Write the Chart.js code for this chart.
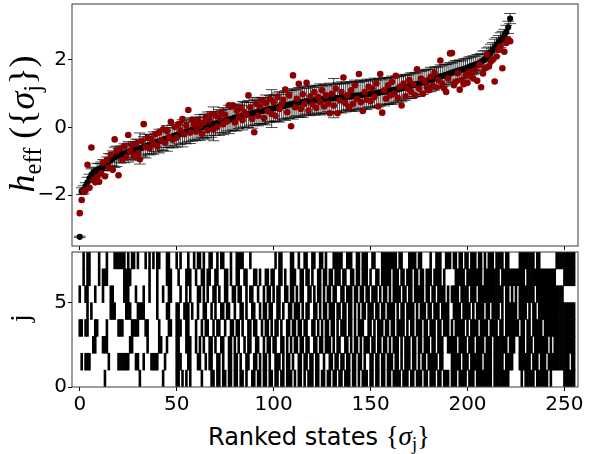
<!DOCTYPE html>
<html>
<head>
<meta charset="utf-8">
<script src="https://cdn.jsdelivr.net/npm/chart.js@4.4.0/dist/chart.umd.min.js"></script>
<style>
  html, body { margin: 0; padding: 0; background: #fff; }
  #wrap { position: relative; width: 592px; height: 454px; overflow: hidden; background: #fff; }
  #topBox { position: absolute; left: 0; top: 0; width: 592px; height: 250px; }
  #botBox { position: absolute; left: 0; top: 250px; width: 592px; height: 170px; }
  .lbl { position: absolute; white-space: nowrap; color: #000; line-height: 1; }
  .serif { font-family: "Liberation Serif", "DejaVu Serif", serif; }
  .lbl sub { font-size: 0.68em; vertical-align: -0.28em; line-height: 0; font-style: normal; }
  #ylabTop { left: 22px; top: 124px; font-size: 36px; transform: translate(-50%, -50%) rotate(-90deg); }
  #ylabBot { left: 20px; top: 318px; font-size: 28px; transform: translate(-50%, -50%) rotate(-90deg); }
  #xlab { left: 319px; top: 436px; font-size: 24px; font-family: "DejaVu Sans", sans-serif; transform: translate(-50%, -50%); }
  #xlab .serif { font-size: 27px; }
</style>
</head>
<body>
<div id="wrap">
  <div id="topBox"><canvas id="topCanvas" width="592" height="250"></canvas></div>
  <div id="botBox"><canvas id="botCanvas" width="592" height="170"></canvas></div>
  <div class="lbl serif" id="ylabTop"><i>h</i><sub>eff</sub>&nbsp;(<span>{</span><i>σ</i><sub>j</sub><span>}</span>)</div>
  <div class="lbl serif" id="ylabBot">j</div>
  <div class="lbl" id="xlab">Ranked states <span class="serif">{<i>σ</i><sub>j</sub>}</span></div>
</div>
<script>
// ranked h_eff (black, with error bars)
const hRanked = [
  -3.23, -1.88, -1.84, -1.73, -1.62, -1.50, -1.40, -1.33, -1.29, -1.26,
  -1.22, -1.20, -1.17, -1.12, -1.07, -1.02, -0.96, -0.91, -0.88, -0.85,
  -0.82, -0.80, -0.78, -0.76, -0.74, -0.72, -0.70, -0.69, -0.67, -0.66,
  -0.64, -0.62, -0.60, -0.57, -0.55, -0.53, -0.51, -0.49, -0.46, -0.44,
  -0.42, -0.40, -0.38, -0.36, -0.34, -0.32, -0.30, -0.28, -0.26, -0.24,
  -0.22, -0.20, -0.18, -0.17, -0.15, -0.13, -0.11, -0.09, -0.07, -0.06,
  -0.04, -0.02, 0.00, 0.01, 0.03, 0.05, 0.06, 0.08, 0.09, 0.11,
  0.12, 0.14, 0.15, 0.17, 0.19, 0.20, 0.22, 0.24, 0.25, 0.27,
  0.29, 0.30, 0.32, 0.33, 0.35, 0.37, 0.38, 0.40, 0.41, 0.43,
  0.44, 0.45, 0.47, 0.48, 0.49, 0.50, 0.52, 0.53, 0.55, 0.56,
  0.57, 0.58, 0.60, 0.61, 0.62, 0.64, 0.65, 0.66, 0.68, 0.69,
  0.70, 0.72, 0.73, 0.74, 0.75, 0.76, 0.77, 0.78, 0.79, 0.79,
  0.80, 0.81, 0.81, 0.82, 0.83, 0.83, 0.84, 0.84, 0.85, 0.86,
  0.86, 0.87, 0.87, 0.88, 0.88, 0.89, 0.90, 0.90, 0.91, 0.92,
  0.92, 0.93, 0.94, 0.94, 0.95, 0.96, 0.97, 0.97, 0.98, 0.99,
  1.00, 1.01, 1.02, 1.02, 1.03, 1.04, 1.05, 1.06, 1.07, 1.08,
  1.09, 1.10, 1.11, 1.12, 1.13, 1.15, 1.16, 1.17, 1.19, 1.20,
  1.22, 1.24, 1.25, 1.27, 1.29, 1.30, 1.32, 1.34, 1.36, 1.38,
  1.40, 1.42, 1.43, 1.45, 1.47, 1.49, 1.51, 1.52, 1.54, 1.56,
  1.58, 1.60, 1.62, 1.64, 1.66, 1.68, 1.70, 1.71, 1.73, 1.75,
  1.77, 1.79, 1.82, 1.84, 1.86, 1.88, 1.90, 1.94, 1.98, 2.03,
  2.10, 2.16, 2.22, 2.29, 2.36, 2.44, 2.52, 2.58, 2.64, 2.72,
  2.82, 2.96, 3.22
];

// error bar half-lengths
const hErr = [
  0.02, 0.10, 0.12, 0.10, 0.15, 0.12, 0.18, 0.14, 0.12, 0.20,
  0.15, 0.18, 0.22, 0.16, 0.20, 0.25, 0.18, 0.22, 0.30, 0.30,
  0.20, 0.25, 0.18, 0.28, 0.22, 0.30, 0.24, 0.20, 0.26, 0.32,
  0.28, 0.46, 0.22, 0.30, 0.35, 0.25, 0.30, 0.28, 0.33, 0.26,
  0.30, 0.35, 0.28, 0.32, 0.25, 0.38, 0.30, 0.27, 0.34, 0.30,
  0.36, 0.28, 0.32, 0.40, 0.30, 0.35, 0.30, 0.38, 0.33, 0.30,
  0.35, 0.32, 0.38, 0.30, 0.36, 0.34, 0.40, 0.32, 0.38, 0.50,
  0.35, 0.30, 0.38, 0.33, 0.40, 0.35, 0.32, 0.42, 0.36, 0.34,
  0.38, 0.40, 0.35, 0.32, 0.42, 0.38, 0.36, 0.40, 0.34, 0.45,
  0.38, 0.35, 0.42, 0.36, 0.40, 0.38, 0.44, 0.35, 0.40, 0.56,
  0.40, 0.38, 0.42, 0.45, 0.36, 0.40, 0.44, 0.38, 0.42, 0.40,
  0.45, 0.40, 0.38, 0.44, 0.42, 0.46, 0.40, 0.38, 0.44, 0.42,
  0.40, 0.44, 0.38, 0.42, 0.46, 0.40, 0.44, 0.42, 0.38, 0.45,
  0.42, 0.58, 0.40, 0.44, 0.42, 0.46, 0.40, 0.44, 0.38, 0.42,
  0.44, 0.40, 0.46, 0.42, 0.38, 0.44, 0.40, 0.42, 0.45, 0.38,
  0.42, 0.40, 0.44, 0.38, 0.42, 0.40, 0.36, 0.42, 0.38, 0.40,
  0.38, 0.42, 0.36, 0.40, 0.38, 0.35, 0.40, 0.36, 0.38, 0.34,
  0.36, 0.38, 0.34, 0.36, 0.32, 0.38, 0.34, 0.36, 0.32, 0.34,
  0.32, 0.36, 0.30, 0.34, 0.32, 0.30, 0.34, 0.30, 0.32, 0.30,
  0.30, 0.32, 0.28, 0.30, 0.32, 0.28, 0.30, 0.26, 0.30, 0.28,
  0.28, 0.30, 0.26, 0.28, 0.25, 0.28, 0.26, 0.25, 0.28, 0.24,
  0.25, 0.22, 0.24, 0.22, 0.25, 0.22, 0.20, 0.22, 0.20, 0.18,
  0.20, 0.18, 0.15
];

// second estimate (dark red points)
const hModel = [
  -2.53, -2.14, -1.90, -1.86, -1.10, -1.78, -0.59, -1.55, -1.62, -1.46,
  -1.60, -1.35, -1.05, -1.44, -0.95, -1.18, -0.80, -1.25, -0.35, -0.70,
  -1.41, -0.62, -0.95, -0.55, -0.88, -0.22, -0.70, -0.52, -0.85, -0.48,
  -0.75, -0.94, -0.40, 0.10, -0.58, -0.30, -0.62, -0.35, -0.50, -0.20,
  -0.55, -0.15, -0.38, -0.05, -0.45, -0.10, -0.28, 0.17, -0.36, 0.02,
  -0.30, 0.10, -0.08, 0.25, -0.20, 0.05, 0.52, -0.15, 0.23, 0.08,
  -0.12, 0.20, 0.05, -0.18, 0.15, 0.30, -0.08, 0.22, 0.40, -0.05,
  0.35, 0.02, 0.28, 0.45, 0.10, 0.38, 0.18, 0.66, 0.62, 0.66,
  0.15, 0.50, 0.30, 0.58, 0.22, 0.45, 0.38, 0.95, 0.60, 0.25,
  -0.14, 0.70, 0.35, 0.62, 0.80, 0.28, 0.72, 0.48, 0.85, 0.40,
  0.75, 0.35, 0.90, 0.55, 0.68, 0.82, 1.12, 0.45, 0.95, 0.04,
  1.54, 0.60, 0.85, 1.29, 0.55, 0.98, 0.70, 1.32, 0.50, 0.92,
  0.68, 1.05, 0.58, 0.90, 0.75, 1.10, 0.62, 0.95, 0.70, 0.42,
  1.00, 0.65, 1.15, 0.42, 0.80, 1.05, 1.48, 0.72, 0.95, 0.60,
  1.10, 0.70, 1.25, 0.85, 1.58, 0.75, 0.49, 1.05, 0.82, 1.20,
  0.78, 1.15, 0.90, 1.30, 0.62, 1.58, 0.44, 1.10, 0.85, 1.25,
  0.95, 1.35, 1.00, 1.53, 0.88, 1.20, 0.65, 1.30, 0.92, 1.15,
  1.40, 1.05, 1.28, 0.95, 1.72, 1.15, 1.45, 1.00, 1.38, 1.20,
  1.10, 1.50, 1.25, 1.62, 1.18, 1.40, 1.98, 1.30, 1.15, 1.05,
  1.45, 2.19, 2.20, 1.25, 1.35, 1.60, 1.12, 1.40, 1.28, 1.55,
  1.32, 1.65, 1.50, 1.45, 1.70, 1.38, 1.85, 1.19, 1.60, 1.75,
  2.16, 1.80, 1.95, 2.00, 1.36, 2.10, 2.30, 2.40, 1.75, 2.24,
  2.50, 2.61, 2.55
];

// spin configuration of each ranked state, row j = 0 (bottom) .. 7 (top); '1' = black
const spinRows = [
  ['00000000000001000000000000000001', '00000000000100000011010101000001',
   '00001101101101101101101001101101', '10110110110111010110101110110110',
   '11011011011101101011101101101101', '10111101110110111011011101101110',
   '11101111011101111111101111111100', '00001011111011111101000000111111'],
  ['01011100000000010000111111000110', '01000111100010000011100011000110',
   '01011001101001101101001100110101', '10100111010110100110110110110010',
   '01101101101101101101001101101101', '11011010111011010110111110110000',
   '11111011101111110111101111101111', '00011111101110111011111111111011'],
  ['00000001100011100000000000110000', '00010000011001000011000111001010',
   '10011010011001101010010110011001', '01101100110101011011011001101101',
   '11010110011010110101110110110110', '10111010111011011011101101110011',
   '11101111011101111011101111111011', '10011101110111111101011111111111'],
  ['11011000110000100000111000011110', '00110000010000110011100110001001',
   '01100101100100110110100110110010', '11010110100110110110110011010101',
   '10110101110110101110011010111011', '01101111010110111011011101101110',
   '10111110101111011110111101101111', '11101101101111101111111111111111'],
  ['00001010000000001110000011100011', '11000000100001100011001110100100',
   '11001010011011001001101001100101', '10110011010011011101011001101011',
   '01110110110110101011011101101101', '11101011011110101110110111011110',
   '01111011110101111011011110101111', '11011110101101111111111111111111'],
  ['10011000100010001100000111000100', '01001000100100110000100101000110',
   '10100110100110011011001011001001', '01101011001101101011001101011010',
   '11011001101110110110110111010110', '10111101101101111101101101111010',
   '11110111101110111111111111101101', '01011111111011111111111111000000'],
  ['00101100001011100000000111100000', '00001000100001110001000111001001',
   '10110011000110100110011000110100', '11011001101001110011011010011011',
   '01101110110011011011101001101111', '10111011011101101101110111101000',
   '00111110111111110111111110111111', '11111101111111111111110000111111'],
  ['00101100001000100011111101011010', '00101010110001100010100010010110',
   '10011001011000100111100010000000', '00000101100001100100110011001101',
   '00011111001110011011100110001111', '11110110001111011000010011100111',
   '01101101101110110101110111101100', '00011111111011000000001111111111']
].map(chunks => chunks.join(''));

const xTicks = [0, 50, 100, 150, 200, 250];
const yTopTicks = [-2, 0, 2];
const yBotTicks = [0, 5];

const tickFont = { family: 'DejaVu Sans', size: 20 };
const fmt = v => (v < 0 ? '\u2212' + Math.abs(v) : String(v));

// keep the plot areas where the reference has them
const fixY = s => { s.width = 72; s.paddingTop = 0; s.paddingBottom = 0; };
const fixX = h => s => { s.height = h; s.paddingLeft = 0; s.paddingRight = 0; };

const framePlugin = {
  id: 'frame',
  afterDraw(chart) {
    const { ctx, chartArea: a } = chart;
    ctx.save();
    ctx.strokeStyle = '#3a3a3a';
    ctx.lineWidth = 1;
    ctx.strokeRect(a.left, a.top, a.right - a.left, a.bottom - a.top);
    ctx.restore();
  }
};

const errorBarPlugin = {
  id: 'errbars',
  beforeDatasetsDraw(chart) {
    const { ctx, scales: { x, y } } = chart;
    ctx.save();
    ctx.strokeStyle = 'rgba(0,0,0,0.8)';
    ctx.lineWidth = 0.9;
    hRanked.forEach((h, i) => {
      const px = x.getPixelForValue(i);
      const lo = y.getPixelForValue(h - hErr[i]);
      const hi = y.getPixelForValue(h + hErr[i]);
      ctx.beginPath();
      ctx.moveTo(px, lo); ctx.lineTo(px, hi);
      ctx.moveTo(px - 5.8, lo); ctx.lineTo(px + 5.8, lo);
      ctx.moveTo(px - 5.8, hi); ctx.lineTo(px + 5.8, hi);
      ctx.stroke();
    });
    ctx.restore();
  }
};

const axisGrid = { drawOnChartArea: false, drawTicks: true, tickLength: 4, color: '#000', offset: false };

new Chart(document.getElementById('topCanvas'), {
  type: 'scatter',
  data: {
    datasets: [
      {
        data: hModel.map((v, i) => ({ x: i, y: v })),
        pointRadius: 3.3, pointBorderWidth: 0,
        pointBackgroundColor: '#8b0000', pointBorderColor: '#8b0000'
      },
      {
        data: hRanked.map((v, i) => ({ x: i, y: v })),
        pointRadius: 3.1, pointBorderWidth: 0,
        pointBackgroundColor: '#000', pointBorderColor: '#000'
      }
    ]
  },
  options: {
    responsive: false,
    animation: false,
    layout: { padding: { left: 0, right: 14, top: 2, bottom: 0 } },
    plugins: { legend: { display: false }, tooltip: { enabled: false } },
    scales: {
      x: {
        type: 'linear', min: -4, max: 257, offset: false,
        afterBuildTicks: s => { s.ticks = xTicks.map(v => ({ value: v })); },
        afterFit: fixX(3),
        ticks: { display: false },
        grid: axisGrid,
        border: { display: false }
      },
      y: {
        type: 'linear', min: -3.5, max: 3.65,
        afterBuildTicks: s => { s.ticks = yTopTicks.map(v => ({ value: v })); },
        afterFit: fixY,
        ticks: { font: tickFont, color: '#000', padding: 1, callback: fmt },
        grid: axisGrid,
        border: { display: false }
      }
    }
  },
  plugins: [errorBarPlugin, framePlugin]
});

// raster: one floating bar per black cell
const rasterSets = spinRows.map((row, j) => ({
  type: 'bar',
  data: row.split('').map((c, i) => (c === '1' ? { x: i, y: [j, j + 1] } : null)).filter(Boolean),
  backgroundColor: '#000',
  borderWidth: 0,
  grouped: false,
  barPercentage: 1,
  categoryPercentage: 1
}));

new Chart(document.getElementById('botCanvas'), {
  type: 'bar',
  data: { datasets: rasterSets },
  options: {
    responsive: false,
    animation: false,
    layout: { padding: { left: 0, right: 14, top: 2, bottom: 0 } },
    plugins: { legend: { display: false }, tooltip: { enabled: false } },
    scales: {
      x: {
        type: 'linear', min: -4, max: 257, offset: false,
        afterBuildTicks: s => { s.ticks = xTicks.map(v => ({ value: v })); },
        afterFit: fixX(33),
        ticks: { font: tickFont, color: '#000', padding: 2, maxRotation: 0, callback: fmt },
        grid: axisGrid,
        border: { display: false }
      },
      y: {
        type: 'linear', min: 0, max: 8,
        afterBuildTicks: s => { s.ticks = yBotTicks.map(v => ({ value: v })); },
        afterFit: fixY,
        ticks: { font: tickFont, color: '#000', padding: 1, callback: fmt },
        grid: axisGrid,
        border: { display: false }
      }
    }
  },
  plugins: [framePlugin]
});
</script>
</body>
</html>
